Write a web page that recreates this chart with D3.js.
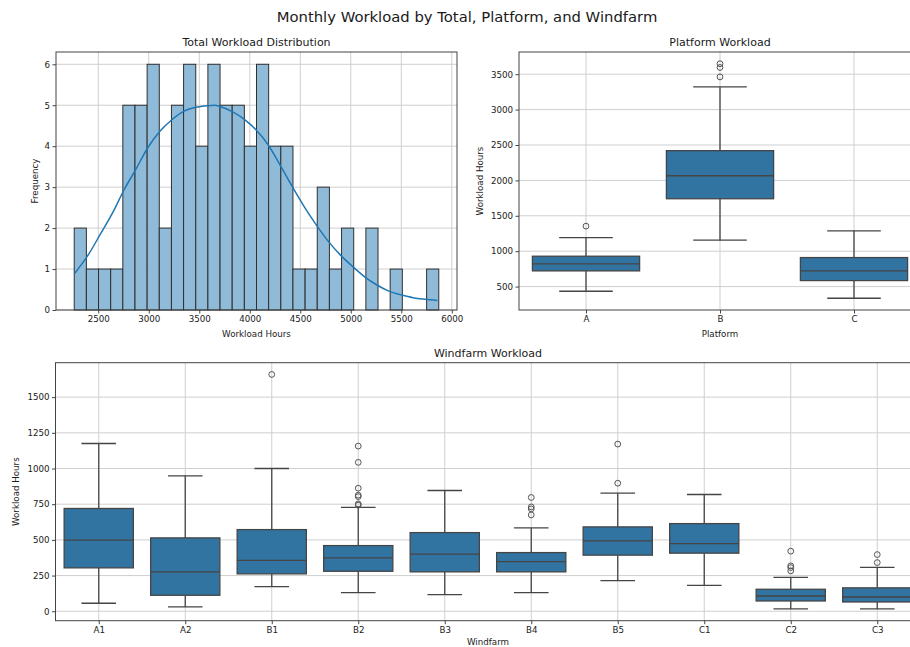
<!DOCTYPE html>
<html>
<head>
<meta charset="utf-8">
<script src="https://cdn.jsdelivr.net/npm/d3@7"></script>
<style>
  body { margin: 0; background: #fff; }
  text { font-family: "DejaVu Sans", sans-serif; fill: #1a1a1a; }
</style>
</head>
<body>
<div id="chart"></div>
<script>
// ---- data ----
const histCounts = [2, 1, 1, 1, 5, 5, 6, 2, 5, 6, 4, 6, 5, 5, 4, 6, 4, 4, 1, 1, 3, 1, 2, 0, 2, 0, 1, 0, 0, 1];
const histStart = 2262;
const histBinWidth = 120.3;
const kdeX = [2262, 2394, 2525, 2656, 2754, 2869, 2987, 3108, 3226, 3344, 3465, 3583, 3655, 3704, 3822, 3943, 4061, 4183, 4300, 4422, 4540, 4658, 4780, 4898, 5019, 5137, 5259, 5377, 5498, 5616, 5737, 5858];
const kdeY = [0.88, 1.32, 1.87, 2.44, 2.93, 3.42, 3.95, 4.36, 4.64, 4.85, 4.95, 4.99, 5.0, 4.97, 4.85, 4.66, 4.40, 4.03, 3.54, 3.01, 2.52, 2.08, 1.67, 1.34, 1.06, 0.81, 0.61, 0.46, 0.37, 0.30, 0.26, 0.23];
const histXTicks = [2500, 3000, 3500, 4000, 4500, 5000, 5500, 6000];
const histYTicks = [0, 1, 2, 3, 4, 5, 6];

const platforms = ["A", "B", "C"];
const platLow = [434, 1156, 335];
const platQ1 = [722, 1741, 585];
const platMed = [821, 2066, 722];
const platQ3 = [929, 2420, 910];
const platHigh = [1193, 3321, 1288];
const platOut = [[1354], [3462, 3595, 3648], []];
const platYTicks = [500, 1000, 1500, 2000, 2500, 3000, 3500];

const windfarms = ["A1", "A2", "B1", "B2", "B3", "B4", "B5", "C1", "C2", "C3"];
const windLow = [56, 30, 173, 131, 117, 131, 215, 182, 16, 16];
const windQ1 = [304, 112, 262, 280, 276, 276, 393, 407, 72, 65];
const windMed = [498, 276, 357, 374, 400, 348, 493, 474, 107, 100];
const windQ3 = [720, 514, 572, 460, 551, 411, 591, 614, 154, 164];
const windHigh = [1175, 949, 1000, 727, 846, 584, 827, 818, 238, 308];
const windOut = [[], [], [1659], [743, 752, 803, 813, 862, 1043, 1157], [], [675, 717, 731, 797], [897, 1171], [], [283, 306, 318, 421], [341, 397]];
const windYTicks = [0, 250, 500, 750, 1000, 1250, 1500];

// ---- style ----
const W = 910, H = 647;
const gridColor = "#cfcfcf";
const spineColor = "#444";
const boxFill = "#3274a1";
const lineGray = "#454545";
const tickFont = 8.7;

const svg = d3.select("#chart").append("svg").attr("width", W).attr("height", H);

svg.append("text")
  .attr("x", 467).attr("y", 22)
  .attr("text-anchor", "middle")
  .style("font-size", "14.8px")
  .text("Monthly Workload by Total, Platform, and Windfarm");

// axes frame: grid, ticks, titles
const drawFrame = (g, x, y, box, xTicks, yTicks, xFmt, opts) => {
  const grid = g.append("g");
  grid.selectAll(".gx").data(xTicks).enter().append("line")
    .attr("x1", d => x(d)).attr("x2", d => x(d))
    .attr("y1", box.top).attr("y2", box.bottom)
    .attr("stroke", gridColor).attr("stroke-width", 1);
  grid.selectAll(".gy").data(yTicks).enter().append("line")
    .attr("x1", box.left).attr("x2", box.right)
    .attr("y1", d => y(d)).attr("y2", d => y(d))
    .attr("stroke", gridColor).attr("stroke-width", 1);

  const xAxis = d3.axisBottom(x).tickValues(xTicks).tickFormat(xFmt).tickSize(3.5).tickPadding(2.5);
  const yAxis = d3.axisLeft(y).tickValues(yTicks).tickFormat(d3.format("d")).tickSize(3.5).tickPadding(2.5);
  const gx = g.append("g").attr("transform", `translate(0,${box.bottom})`).call(xAxis);
  const gy = g.append("g").attr("transform", `translate(${box.left},0)`).call(yAxis);
  [gx, gy].forEach(a => {
    a.select(".domain").remove();
    a.selectAll("line").attr("stroke", spineColor);
    a.selectAll("text").style("font-size", tickFont + "px").attr("fill", "#1a1a1a")
      .style("font-family", "DejaVu Sans, sans-serif");
  });

  g.append("text")
    .attr("x", (box.left + box.right) / 2).attr("y", box.top - 6)
    .attr("text-anchor", "middle").style("font-size", "11px")
    .text(opts.title);
  g.append("text")
    .attr("x", (box.left + box.right) / 2).attr("y", box.bottom + opts.xlabelDy)
    .attr("text-anchor", "middle").style("font-size", tickFont + "px")
    .text(opts.xlabel);
  g.append("text")
    .attr("transform", `translate(${opts.ylabelX},${(box.top + box.bottom) / 2}) rotate(-90)`)
    .attr("text-anchor", "middle").style("font-size", tickFont + "px")
    .text(opts.ylabel);
};

const drawSpines = (g, box) => {
  g.append("rect")
    .attr("x", box.left).attr("y", box.top)
    .attr("width", box.right - box.left).attr("height", box.bottom - box.top)
    .attr("fill", "none").attr("stroke", spineColor).attr("stroke-width", 1);
};

// ---- histogram ----
{
  const box = { left: 56, right: 457, top: 52, bottom: 310 };
  const binEdges = histCounts.map((c, i) => histStart + i * histBinWidth);
  const lo = histStart, hi = histStart + histCounts.length * histBinWidth;
  const pad = (hi - lo) * 0.05;
  const x = d3.scaleLinear().domain([lo - pad, hi + pad]).range([box.left, box.right]);
  const y = d3.scaleLinear().domain([0, d3.max(histCounts) * 1.05]).range([box.bottom, box.top]);
  const g = svg.append("g");
  drawFrame(g, x, y, box, histXTicks, histYTicks, d3.format("d"),
    { title: "Total Workload Distribution", xlabel: "Workload Hours", ylabel: "Frequency", ylabelX: 38, xlabelDy: 27 });

  histCounts.forEach((c, i) => {
    if (c === 0) return;
    g.append("rect")
      .attr("x", x(binEdges[i])).attr("y", y(c))
      .attr("width", x(binEdges[i] + histBinWidth) - x(binEdges[i])).attr("height", y(0) - y(c))
      .attr("fill", "#8fbbd9").attr("stroke", "#2f2f2f").attr("stroke-width", 1);
  });

  const line = d3.line().x((d, i) => x(kdeX[i])).y(d => y(d)).curve(d3.curveMonotoneX);
  g.append("path").datum(kdeY).attr("d", line)
    .attr("fill", "none").attr("stroke", "#1f77b4").attr("stroke-width", 1.5);
  drawSpines(g, box);
}

// ---- box plots ----
const drawBoxes = (g, x, y, n, low, q1, med, q3, high, outs) => {
  const half = 0.4;
  for (let i = 0; i < n; i++) {
    const wg = g.append("g");
    wg.append("line").attr("x1", x(i)).attr("x2", x(i)).attr("y1", y(low[i])).attr("y2", y(q1[i]));
    wg.append("line").attr("x1", x(i)).attr("x2", x(i)).attr("y1", y(q3[i])).attr("y2", y(high[i]));
    wg.append("line").attr("x1", x(i - half / 2)).attr("x2", x(i + half / 2)).attr("y1", y(low[i])).attr("y2", y(low[i]));
    wg.append("line").attr("x1", x(i - half / 2)).attr("x2", x(i + half / 2)).attr("y1", y(high[i])).attr("y2", y(high[i]));
    wg.selectAll("line").attr("stroke", lineGray).attr("stroke-width", 1.3);
    wg.append("rect")
      .attr("x", x(i - half)).attr("y", y(q3[i]))
      .attr("width", x(i + half) - x(i - half)).attr("height", y(q1[i]) - y(q3[i]))
      .attr("fill", boxFill).attr("stroke", lineGray).attr("stroke-width", 1.3);
    wg.append("line").attr("x1", x(i - half)).attr("x2", x(i + half))
      .attr("y1", y(med[i])).attr("y2", y(med[i]))
      .attr("stroke", lineGray).attr("stroke-width", 1.3);
    wg.selectAll("circle").data(outs[i]).enter().append("circle")
      .attr("cx", x(i)).attr("cy", d => y(d)).attr("r", 2.9)
      .attr("fill", "none").attr("stroke", "#555").attr("stroke-width", 1);
  }
};

const padded = (lows, highs, outs) => {
  const vals = lows.concat(highs, outs.flat());
  const lo = d3.min(vals), hi = d3.max(vals), p = (hi - lo) * 0.05;
  return [lo - p, hi + p];
};

// platform
{
  const box = { left: 519, right: 921, top: 52, bottom: 310 };
  const x = d3.scaleLinear().domain([-0.5, platforms.length - 0.5]).range([box.left, box.right]);
  const y = d3.scaleLinear().domain(padded(platLow, platHigh, platOut)).range([box.bottom, box.top]);
  const g = svg.append("g");
  drawFrame(g, x, y, box, d3.range(platforms.length), platYTicks, i => platforms[i],
    { title: "Platform Workload", xlabel: "Platform", ylabel: "Workload Hours", ylabelX: 482.5, xlabelDy: 27 });
  drawBoxes(g, x, y, platforms.length, platLow, platQ1, platMed, platQ3, platHigh, platOut);
  drawSpines(g, box);
}

// windfarm
{
  const box = { left: 55.5, right: 920.5, top: 362.7, bottom: 620.7 };
  const x = d3.scaleLinear().domain([-0.5, windfarms.length - 0.5]).range([box.left, box.right]);
  const y = d3.scaleLinear().domain(padded(windLow, windHigh, windOut)).range([box.bottom, box.top]);
  const g = svg.append("g");
  drawFrame(g, x, y, box, d3.range(windfarms.length), windYTicks, i => windfarms[i],
    { title: "Windfarm Workload", xlabel: "Windfarm", ylabel: "Workload Hours", ylabelX: 19, xlabelDy: 24.5 });
  drawBoxes(g, x, y, windfarms.length, windLow, windQ1, windMed, windQ3, windHigh, windOut);
  drawSpines(g, box);
}
</script>
</body>
</html>
